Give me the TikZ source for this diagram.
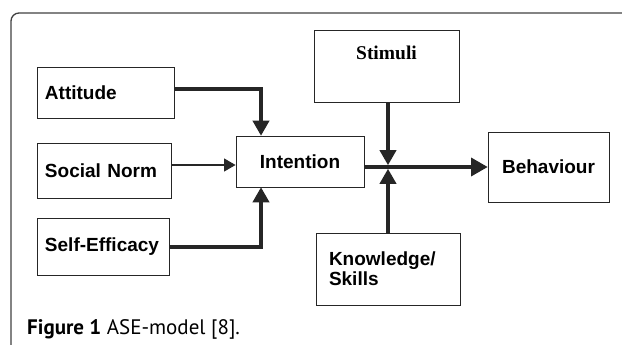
\documentclass[tikz,border=0pt]{standalone}
\usepackage{fontspec}
\setmainfont{Liberation Sans}
\newfontfamily\capfont{PT Sans}
\newfontfamily\timesfont{Liberation Serif}
\usetikzlibrary{shapes,arrows}

\begin{document}
\begin{tikzpicture}[x=1pt, y=-1pt,
    box/.style={draw, line width=0.9pt, black!85, text=black, rectangle, inner xsep=8pt, font=\fontsize{19}{22}\selectfont\bfseries},
    thickline/.style={line width=3.2pt, black!85},
    arr/.style={thickline, -triangle 60}]
    \useasboundingbox (0,0) rectangle (622,345);
    % frame around the figure
    \draw [line width=1.3pt, black!75, rounded corners=8pt] (11,350) -- (11,13) -- (630,13);
    \node[box, minimum width=137pt, minimum height=51pt, text width=121pt, align=left] (att) at (105.5,92.5) {Attitude};
    \node[box, minimum width=134pt, minimum height=55pt, text width=118pt, align=left] (norm) at (104,170.5) {Social Norm};
    \node[box, minimum width=132pt, minimum height=57pt, text width=116pt, align=left] (self) at (103,246.5) {Self-Efficacy};
    \node[box, minimum width=128pt, minimum height=51pt] (int) at (300,161.5) {Intention};
    \node[box, minimum width=145pt, minimum height=72pt,
        label={[font=\timesfont\fontsize{19.5}{22}\selectfont\bfseries, yshift=-23pt, anchor=center]north:Stimuli}] (stim) at (386.5,66) {};
    \node[box, minimum width=121pt, minimum height=70pt] (beh) at (548.5,167) {Behaviour};
    \node[box, minimum width=144pt, minimum height=72pt, inner xsep=13pt, text width=118pt, align=left] (know) at (388,269) {Knowledge/\\[-2pt]Skills};
    \coordinate (jn) at (388,167);
    \draw [arr] (att.east |- 0,89) -| (261,0 |- int.north);
    \draw [line width=2.2pt, black!85, -triangle 60] (norm.east |- 0,165) -- (int.west |- 0,165);
    \draw [arr] (self.east |- 0,247) -| (261,0 |- int.south);
    \draw [line width=3.6pt, black!85, -triangle 60] (int.east |- jn) -- (beh.west |- jn);
    \draw [arr, shorten >=2pt] (stim.south -| jn) -- (jn);
    \draw [arr, shorten >=2pt] (know.north -| jn) -- (jn);
    \node[anchor=base west, inner sep=0pt, font=\capfont\fontsize{21}{24}\selectfont] (cap) at (27,334) {\textbf{Figure 1} ASE-model [8].};
\end{tikzpicture}
\end{document}
